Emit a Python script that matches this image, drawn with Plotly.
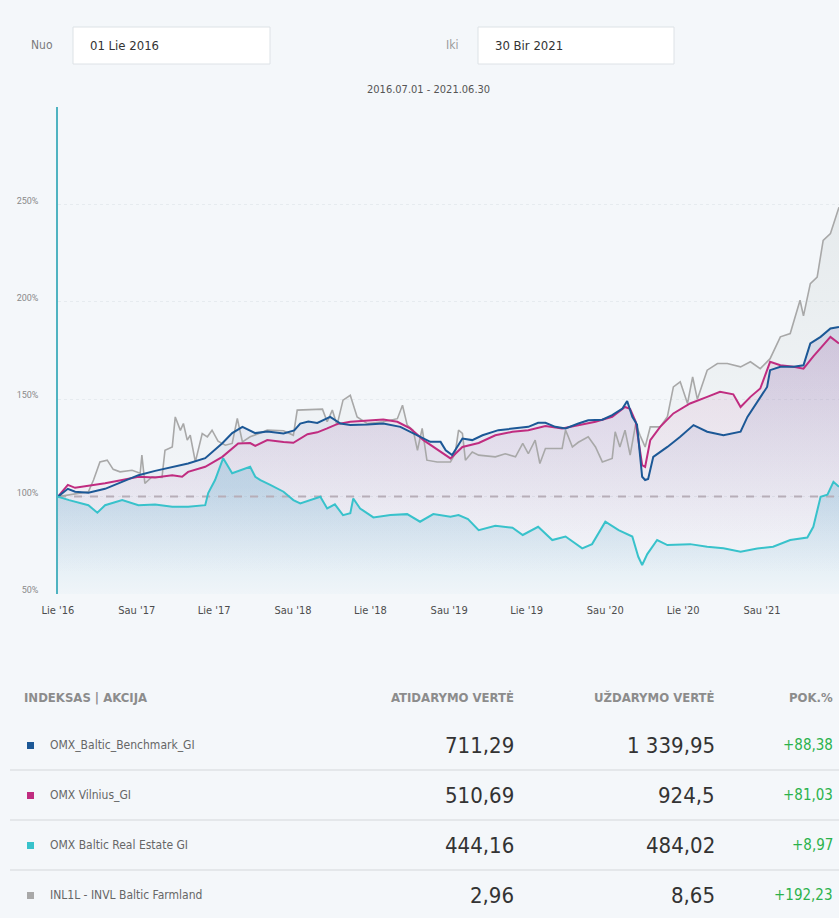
import plotly.graph_objects as go

# ---------------- data ----------------
bench_dates = ["2016-07-01","2016-07-24","2016-08-10","2016-09-10","2016-10-19","2016-11-28","2017-01-05","2017-02-13","2017-03-25","2017-05-01","2017-06-10","2017-07-20","2017-08-12","2017-09-05","2017-10-05","2017-11-02","2017-12-10","2018-01-04","2018-01-18","2018-02-06","2018-02-27","2018-03-29","2018-04-22","2018-05-15","2018-06-24","2018-07-31","2018-09-09","2018-10-19","2018-11-18","2018-12-12","2018-12-24","2019-01-08","2019-02-01","2019-02-24","2019-03-20","2019-04-26","2019-05-29","2019-07-05","2019-07-28","2019-08-14","2019-09-06","2019-09-30","2019-10-30","2019-11-22","2019-12-25","2020-01-17","2020-02-10","2020-02-21","2020-03-04","2020-03-15","2020-03-27","2020-04-03","2020-04-10","2020-04-22","2020-05-25","2020-06-24","2020-07-25","2020-08-26","2020-10-03","2020-11-12","2020-11-28","2020-12-28","2021-01-13","2021-01-20","2021-02-13","2021-03-16","2021-04-08","2021-04-24","2021-05-18","2021-06-10","2021-06-30"]
bench_vals = [100,104,102.5,102,104,107.6,111,113.2,115,117,119.7,127.4,132.6,135.8,132.6,133.4,132.4,134,137.5,138.5,137.8,140.9,137.5,136.7,137,137.5,135.8,131.5,128.1,128.1,123.8,121.3,129.8,129,131.5,134.1,135,135.8,137.9,137.9,135.8,135,137.5,139.2,139.5,141.8,145.2,149.1,141,137,110.2,108.5,109,120.4,125.5,130.7,136.7,133.3,131.5,133.3,140.9,151.2,156.3,164.9,166.6,166.6,167.4,178.6,182,186.3,187.1]

vil_dates = ["2016-07-01","2016-07-24","2016-08-10","2016-09-10","2016-10-19","2016-11-28","2017-01-05","2017-02-13","2017-03-25","2017-04-17","2017-05-01","2017-06-10","2017-07-20","2017-08-26","2017-09-23","2017-10-05","2017-11-02","2017-12-10","2018-01-02","2018-02-04","2018-02-27","2018-03-22","2018-04-14","2018-05-15","2018-06-24","2018-07-31","2018-09-02","2018-10-02","2018-11-02","2018-12-04","2019-01-04","2019-02-01","2019-03-11","2019-04-19","2019-05-29","2019-07-05","2019-08-14","2019-09-22","2019-10-30","2019-12-09","2020-01-17","2020-02-16","2020-02-28","2020-03-12","2020-03-27","2020-04-03","2020-04-15","2020-05-08","2020-06-08","2020-07-17","2020-08-26","2020-09-25","2020-10-26","2020-11-12","2020-12-05","2020-12-28","2021-01-20","2021-02-13","2021-03-16","2021-04-08","2021-05-01","2021-06-10","2021-06-30"]
vil_vals = [100,106,104.5,105.4,106.8,108.5,110.2,109.8,111,110.2,112.7,115.3,120.4,127.3,127.5,126,129,128,127.6,132,133,135,137.2,138.4,139.2,139.6,138.4,135,129,124,119.6,125.5,127.5,131.5,133.3,134.1,136.2,135,136.7,138.4,141,146,145,138.4,116.2,115.3,129,135.8,142.7,147.8,151.2,153.8,152.5,146,151.2,155.5,169.2,167.4,166.6,165.7,172,182,178.6]

re_dates = ["2016-07-01","2016-07-27","2016-09-10","2016-10-01","2016-10-19","2016-11-28","2017-01-05","2017-02-13","2017-03-25","2017-05-01","2017-06-10","2017-06-17","2017-07-03","2017-07-22","2017-08-12","2017-09-11","2017-09-23","2017-10-05","2017-10-17","2017-11-09","2017-12-10","2018-01-02","2018-01-18","2018-03-06","2018-03-22","2018-04-09","2018-04-28","2018-05-15","2018-05-22","2018-06-07","2018-07-08","2018-08-17","2018-09-25","2018-10-25","2018-11-25","2019-01-04","2019-01-23","2019-02-14","2019-03-11","2019-04-19","2019-05-29","2019-06-22","2019-07-28","2019-08-30","2019-09-30","2019-11-08","2019-12-01","2020-01-01","2020-02-01","2020-03-04","2020-03-18","2020-03-27","2020-04-08","2020-05-01","2020-05-25","2020-07-17","2020-08-26","2020-10-03","2020-11-12","2020-12-21","2021-01-27","2021-03-08","2021-04-17","2021-05-01","2021-05-18","2021-06-03","2021-06-17","2021-06-30"]
re_vals = [100,98.2,95.6,91.7,95.6,98.2,95.6,96,94.8,94.8,95.6,101.8,108.5,119.7,112,114.6,115.3,110.2,108.5,106,102.5,98.2,96.5,99.9,93.9,96,90.5,91.5,99,93.9,89.3,90.5,91,87.1,91,89.7,90.5,88.5,82.8,85,84,80.3,84.5,77.7,79.5,73.4,75.6,87.1,82.8,79.5,69.1,64.9,70.5,77.7,75.1,75.6,74.3,73.5,71.7,73.4,74.3,77.7,79,84.5,99.9,101,107.6,105]

farm_dates = ["2016-07-01","2016-09-10","2016-09-22","2016-10-07","2016-10-24","2016-11-07","2016-11-23","2016-12-21","2017-01-09","2017-01-13","2017-01-20","2017-02-06","2017-03-01","2017-03-08","2017-03-25","2017-04-01","2017-04-13","2017-04-20","2017-04-29","2017-05-06","2017-05-18","2017-06-03","2017-06-15","2017-06-26","2017-07-10","2017-07-27","2017-08-12","2017-08-24","2017-09-05","2017-09-23","2017-11-02","2017-12-10","2018-01-02","2018-01-11","2018-03-11","2018-03-22","2018-04-03","2018-04-14","2018-04-28","2018-05-15","2018-05-31","2018-06-24","2018-07-31","2018-09-02","2018-09-14","2018-09-25","2018-10-09","2018-10-19","2018-10-30","2018-11-10","2018-12-04","2019-01-04","2019-01-15","2019-01-23","2019-02-01","2019-02-08","2019-02-24","2019-03-11","2019-04-19","2019-05-12","2019-06-05","2019-06-22","2019-07-05","2019-07-21","2019-08-01","2019-08-14","2019-09-22","2019-09-30","2019-10-06","2019-10-16","2019-10-30","2019-11-22","2019-12-09","2019-12-25","2020-01-17","2020-01-24","2020-02-04","2020-02-16","2020-02-28","2020-03-12","2020-03-22","2020-04-03","2020-04-15","2020-05-08","2020-05-25","2020-06-08","2020-06-24","2020-07-11","2020-07-23","2020-08-03","2020-08-26","2020-09-19","2020-10-12","2020-11-12","2020-12-05","2020-12-28","2021-01-20","2021-02-13","2021-03-08","2021-03-31","2021-04-08","2021-04-24","2021-05-10","2021-05-24","2021-06-10","2021-06-30"]
farm_vals = [100,102.5,108.5,117.8,118.7,114,112.7,113.5,112,121.3,106.8,110.2,109.8,123.8,125.5,140.9,134,137.5,129,131.5,117.8,132.4,130.7,134.1,128.5,126.4,127.3,140.1,128.1,130.7,134.1,133.8,131.5,144.4,144.9,138.4,144.4,136.7,149.5,152,140.9,137.5,138.4,140,146.9,136.7,134,123.8,135,118.7,117.8,117.8,122,134.1,132.4,118.7,122.9,121.3,120.4,122,120.4,127.3,122,129,117,124.7,124.7,134.1,131,125.5,127.9,130.7,125.5,117.8,119.6,133.3,125.5,134.1,121.3,137.5,131.5,125.5,135.8,135.8,141,156.3,158.9,147.8,161.4,150,164.9,168.3,168.3,166.6,169.2,165.7,170.8,182,183.7,200.8,192.8,209.3,212.7,231.5,235,248.6]

BASELINE = 100
y_tick_vals = [50, 100, 150, 200, 250]
y_tick_text = ["50%", "100%", "150%", "200%", "250%"]
x_tick_vals = ["2016-07-01","2017-01-01","2017-07-01","2018-01-01","2018-07-01","2019-01-01","2019-07-01","2020-01-01","2020-07-01","2021-01-01"]
x_tick_text = ["Lie '16","Sau '17","Lie '17","Sau '18","Lie '18","Sau '19","Lie '19","Sau '20","Lie '20","Sau '21"]
date_from, date_to = "2016-07-01", "2021-06-30"

names = ["OMX_Baltic_Benchmark_GI", "OMX Vilnius_GI", "OMX Baltic Real Estate GI", "INL1L - INVL Baltic Farmland"]
open_vals = ["711,29", "510,69", "444,16", "2,96"]
close_vals = ["1 339,95", "924,5", "484,02", "8,65"]
pct_vals = ["+88,38", "+81,03", "+8,97", "+192,23"]
headers = ["INDEKSAS | AKCIJA", "ATIDARYMO VERTĖ", "UŽDARYMO VERTĖ", "POK.%"]

# ---------------- style ----------------
W, H = 839, 918
L, T, R, B = 58, 107, 839, 594
BG = "#f4f7fa"
C_BENCH, C_VIL, C_RE, C_FARM = "#1c5896", "#c02c80", "#38c2cb", "#a8a8a8"
COND = "Liberation Sans Narrow, DejaVu Sans Condensed, Roboto, sans-serif"

def px(x):
    return (x - L) / (R - L)

def py(y):
    return (B - y) / (B - T)

fig = go.Figure()

def fill_trace(d, v, rgb, a_bot, a_top, start, stop):
    fig.add_trace(go.Scatter(
        x=d, y=v, mode="none", fill="tozeroy", hoverinfo="skip", showlegend=False,
        fillgradient=dict(type="vertical", start=start, stop=stop,
                          colorscale=[[0, f"rgba({rgb},{a_bot})"], [1, f"rgba({rgb},{a_top})"]]),
    ))

fill_trace(farm_dates, farm_vals, "180,190,188", 0.0, 0.22, 80, 250)
fill_trace(vil_dates, vil_vals, "190,90,160", 0.0, 0.15, 60, 185)
fill_trace(bench_dates, bench_vals, "80,80,160", 0.0, 0.15, 60, 185)
fill_trace(re_dates, re_vals, "90,170,205", 0.03, 0.27, 50, 105)

fig.add_trace(go.Scatter(x=[date_from, date_to], y=[BASELINE, BASELINE], mode="lines",
                         line=dict(color="#b7aeb8", width=2, dash="8px,8px"),
                         hoverinfo="skip", showlegend=False))

for d, v, c, w in [(farm_dates, farm_vals, C_FARM, 1.6), (vil_dates, vil_vals, C_VIL, 2),
                   (bench_dates, bench_vals, C_BENCH, 2), (re_dates, re_vals, C_RE, 2)]:
    fig.add_trace(go.Scatter(x=d, y=v, mode="lines", line=dict(color=c, width=w),
                             hoverinfo="skip", showlegend=False))

fig.update_xaxes(range=[date_from, date_to], tickvals=x_tick_vals, ticktext=x_tick_text,
                 showgrid=False, zeroline=False, showline=False, ticks="",
                 tickfont=dict(family=COND, size=11, color="#4d4d4d"), ticklabelstandoff=8)
fig.update_yaxes(range=[50, 300], tickvals=y_tick_vals, ticktext=y_tick_text,
                 showgrid=True, gridcolor="#e6ebef", griddash="dot", gridwidth=1,
                 zeroline=False, showline=True, linecolor="#4fb3c1", linewidth=1.5,
                 ticks="", tickfont=dict(family="Roboto", size=9, color="#8a8a8a"),
                 ticklabelstandoff=16, ticklabelshift=-4)

shapes = []
ann = []

def text(x, y, s, size, color, anchor="left", family="Roboto", weight=None):
    f = dict(family=family, size=size, color=color)
    if weight:
        f["weight"] = weight
    ann.append(dict(x=px(x), y=py(y), xref="paper", yref="paper", text=s, showarrow=False,
                    xanchor=anchor, yanchor="middle", font=f))

# date inputs
for x0, x1 in [(73, 270), (478, 674)]:
    shapes.append(dict(type="rect", xref="paper", yref="paper", x0=px(x0), x1=px(x1),
                       y0=py(64), y1=py(27), fillcolor="white",
                       line=dict(color="#dde2e6", width=1), layer="above"))
text(42, 45, "Nuo", 12, "#7a7a7a", "center", COND)
text(88, 45, "01 Lie 2016", 13, "#333", "left", COND)
text(452, 45, "Iki", 12, "#9a9a9a", "center", COND)
text(493, 45, "30 Bir 2021", 13, "#333", "left", COND)
text(428, 89, f"{date_from.replace('-', '.')} - {date_to.replace('-', '.')}", 11, "#555", "center", COND)

# table
col_x = [22, 516, 717, 835]
text(col_x[0], 697, headers[0], 13, "#8c8c8c", "left", COND, "bold")
for i in range(1, 4):
    text(col_x[i], 697, headers[i], 13, "#8c8c8c", "right", COND, "bold")

row_y = [745, 795, 845, 895]
sq_colors = [C_BENCH, C_VIL, C_RE, C_FARM]
for i, yy in enumerate(row_y):
    shapes.append(dict(type="rect", xref="paper", yref="paper", x0=px(27), x1=px(34),
                       y0=py(yy + 4), y1=py(yy - 3), fillcolor=sq_colors[i], line=dict(width=0)))
    text(48, yy, names[i], 12, "#666", "left", COND)
    text(col_x[1], yy, open_vals[i], 22, "#333", "right", COND)
    text(col_x[2], yy, close_vals[i], 22, "#333", "right", COND)
    text(col_x[3], yy, pct_vals[i], 15, "#2bb24c", "right", COND)
    if i < 3:
        shapes.append(dict(type="line", xref="paper", yref="paper", x0=px(10), x1=px(839),
                           y0=py(yy + 25), y1=py(yy + 25), line=dict(color="#e4e7ea", width=2)))

fig.update_layout(width=W, height=H, autosize=False,
                  margin=dict(l=L, r=W - R, t=T, b=H - B),
                  paper_bgcolor=BG, plot_bgcolor=BG,
                  shapes=shapes, annotations=ann, showlegend=False)

fig.write_html("out.html")
